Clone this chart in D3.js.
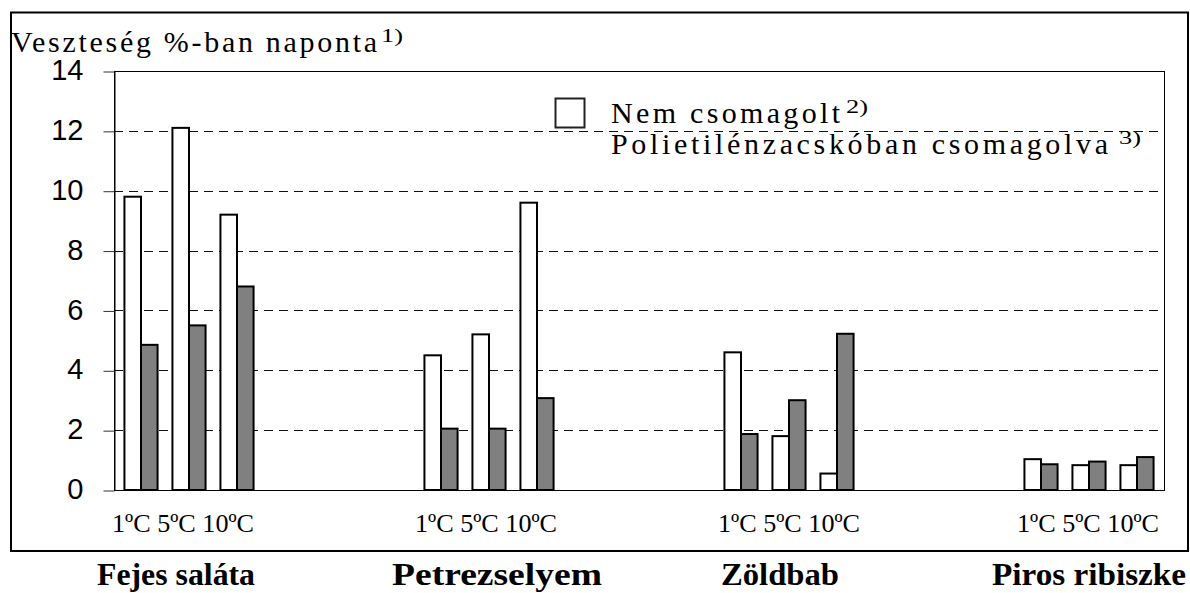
<!DOCTYPE html>
<html>
<head>
<meta charset="utf-8">
<script src="https://cdn.jsdelivr.net/npm/d3@7"></script>
<style>
  html, body { margin: 0; padding: 0; background: #fff; }
  svg { display: block; }
</style>
</head>
<body>
<div id="chart"></div>
<script>
// ---- Data ----
const groups = ["Fejes saláta", "Petrezselyem", "Zöldbab", "Piros ribiszke"];
const temps = ["1ºC", "5ºC", "10ºC"];
const nemCsomagolt = [9.8, 12.1, 9.2, 4.5, 5.2, 9.6, 4.6, 1.8, 0.55, 1.03, 0.83, 0.83];
const polietilen = [4.85, 5.5, 6.8, 2.05, 2.05, 3.07, 1.87, 3.0, 5.22, 0.86, 0.95, 1.1];
const yTicks = [0, 2, 4, 6, 8, 10, 12, 14];
const seriesNames = ["Nem csomagolt", "Polietilénzacskóban csomagolva"];
const seriesNotes = ["2)", "3)"];
const yTitle = "Veszteség %-ban naponta";
const yTitleNote = "1)";

// ---- Layout ----
const W = 1190, H = 593;
const plot = { left: 114, right: 1164, top: 71, bottom: 490 };
const serif = "'Liberation Serif', 'Times New Roman', serif";
const sans = "'Liberation Sans', Arial, sans-serif";
// hand-placed text boxes in the original are slightly off-centre
const tempLabelNudge = [-6, -3, 0, -1];
const groupLabelNudge = [-13, 8, -9, 0];
const groupLabelWidth = [158, 210, 118, 194];

const svg = d3.select("#chart").append("svg")
  .attr("width", W).attr("height", H);

// outer frame
svg.append("rect")
  .attr("x", 11).attr("y", 12.5).attr("width", 1177).attr("height", 538.5)
  .attr("fill", "none").attr("stroke", "#000").attr("stroke-width", 2);

const y = d3.scaleLinear().domain([0, 14]).range([plot.bottom, plot.top]);
const xGroup = d3.scaleBand().domain(groups).range([plot.left, plot.right])
  .paddingInner(0.52).paddingOuter(0.01);
const xTemp = d3.scaleBand().domain(temps).range([0, xGroup.bandwidth()])
  .paddingInner(0.31).paddingOuter(0.155);

// gridlines
svg.append("g").selectAll("line")
  .data(yTicks.filter(v => v > 0 && v < 14))
  .join("line")
  .attr("x1", plot.left).attr("x2", plot.right)
  .attr("y1", d => Math.round(y(d)) + 0.5).attr("y2", d => Math.round(y(d)) + 0.5)
  .attr("stroke", "#111").attr("stroke-width", 1)
  .attr("stroke-dasharray", "9,6");

// plot frame
svg.append("rect")
  .attr("x", plot.left + 0.5).attr("y", plot.top + 0.5)
  .attr("width", plot.right - plot.left).attr("height", plot.bottom - plot.top)
  .attr("fill", "none").attr("stroke", "#000").attr("stroke-width", 1);

// y axis
const yAxis = svg.append("g")
  .attr("transform", `translate(${plot.left + 0.5},0.5)`)
  .call(d3.axisLeft(y).tickValues(yTicks).tickSize(11).tickPadding(20).tickSizeOuter(0));
yAxis.select(".domain").attr("stroke", "#000");
yAxis.selectAll(".tick line").attr("stroke", "#333");
yAxis.selectAll(".tick text")
  .attr("font-family", sans).attr("font-size", 29).attr("fill", "#000")
  .attr("dy", "0.28em");

// bars
const barData = [];
groups.forEach((g, gi) => {
  temps.forEach((t, ti) => {
    const i = gi * 3 + ti;
    barData.push({ g, t, s: 0, v: nemCsomagolt[i] });
    barData.push({ g, t, s: 1, v: polietilen[i] });
  });
});
const bw = xTemp.bandwidth() / 2;
svg.append("g").selectAll("rect")
  .data(barData)
  .join("rect")
  .attr("x", d => xGroup(d.g) + xTemp(d.t) + d.s * bw)
  .attr("y", d => y(d.v))
  .attr("width", bw)
  .attr("height", d => y(0) - y(d.v))
  .attr("fill", d => d.s === 0 ? "#ffffff" : "#808080")
  .attr("stroke", "#000").attr("stroke-width", 2);

// temperature labels
svg.append("g").selectAll("text")
  .data(groups)
  .join("text")
  .attr("x", (d, i) => xGroup(d) + xGroup.bandwidth() / 2 + tempLabelNudge[i] - 71)
  .attr("y", 532)
  .attr("font-family", serif).attr("font-size", 26)
  .attr("textLength", 142).attr("lengthAdjust", "spacingAndGlyphs")
  .text(temps.join(" "));

// category labels
svg.append("g").selectAll("text")
  .data(groups)
  .join("text")
  .attr("x", (d, i) => xGroup(d) + xGroup.bandwidth() / 2 + groupLabelNudge[i] - groupLabelWidth[i] / 2)
  .attr("y", 585)
  .attr("font-family", serif).attr("font-size", 32).attr("font-weight", "bold")
  .attr("textLength", (d, i) => groupLabelWidth[i])
  .attr("lengthAdjust", "spacingAndGlyphs")
  .text(d => d);

// helper: letter-spaced serif text with a superscript note
function spacedText(x, yBase, str, size, width, note, noteX, noteWidth) {
  svg.append("text")
    .attr("x", x).attr("y", yBase)
    .attr("font-family", serif).attr("font-size", size)
    .attr("textLength", width).attr("lengthAdjust", "spacing")
    .text(str);
  svg.append("text")
    .attr("x", noteX).attr("y", yBase - 10)
    .attr("font-family", serif).attr("font-size", 18)
    .attr("textLength", noteWidth).attr("lengthAdjust", "spacingAndGlyphs")
    .text(note);
}

// y title
spacedText(11, 52, yTitle, 30, 366, yTitleNote, 381, 22);

// legend
svg.append("rect")
  .attr("x", 555.5).attr("y", 98.5).attr("width", 29).attr("height", 29)
  .attr("fill", "#fff").attr("stroke", "#222").attr("stroke-width", 2);
spacedText(611, 123, seriesNames[0], 30, 229, seriesNotes[0], 846, 22);
spacedText(611, 154, seriesNames[1], 30, 497, seriesNotes[1], 1119, 22);
</script>
</body>
</html>
